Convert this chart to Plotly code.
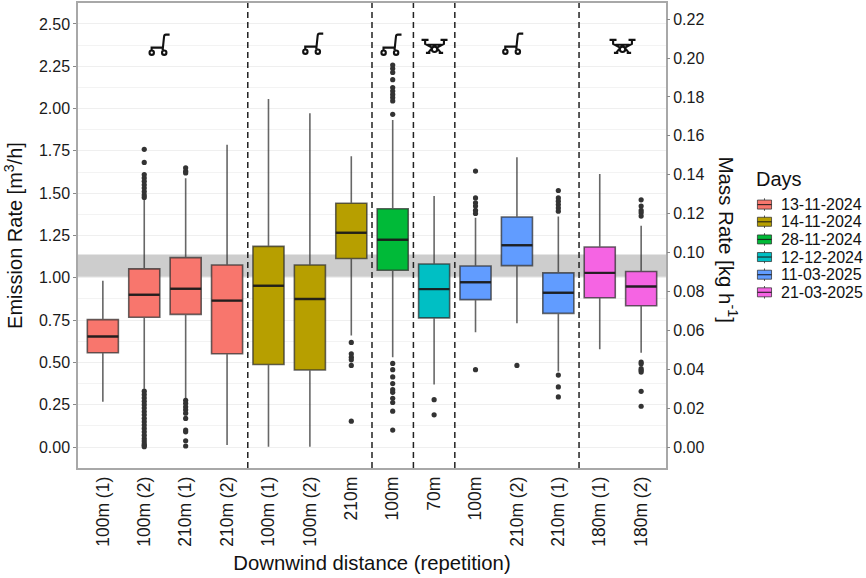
import plotly.graph_objects as go

# Survey days and their box colours
days = ["13-11-2024", "14-11-2024", "28-11-2024", "12-12-2024", "11-03-2025", "21-03-2025"]
colors = ["#F8766D", "#B79F00", "#00BA38", "#00BFC4", "#619CFF", "#F564E3"]

# Tick labels along the downwind axis
distance_labels = ["100m (1)", "100m (2)", "210m (1)", "210m (2)", "100m (1)", "100m (2)", "210m",
                   "100m", "70m", "100m", "210m (2)", "210m (1)", "180m (1)", "180m (2)"]

# Day index of every box
box_day = [0, 0, 0, 0, 1, 1, 1, 2, 3, 4, 4, 4, 5, 5]

# Box statistics, emission rate in m3/h
low_whisker = [0.267, 0.345, 0.286, 0.012, 0.002, 0.002, 0.659, 0.531, 0.369, 0.678, 0.731, 0.447, 0.578, 0.557]
q1_values = [0.557, 0.767, 0.784, 0.551, 0.488, 0.455, 1.114, 1.045, 0.763, 0.871, 1.072, 0.790, 0.882, 0.835]
medians = [0.653, 0.900, 0.935, 0.865, 0.953, 0.875, 1.266, 1.225, 0.933, 0.974, 1.192, 0.912, 1.029, 0.949]
q3_values = [0.753, 1.053, 1.119, 1.076, 1.186, 1.076, 1.441, 1.408, 1.082, 1.070, 1.359, 1.029, 1.182, 1.037]
high_whisker = [0.982, 1.472, 1.589, 1.786, 2.057, 1.972, 1.718, 1.933, 1.484, 1.355, 1.712, 1.363, 1.614, 1.308]

# Outliers per box
outliers = [
    [],
    [1.759, 1.682, 1.61, 1.59, 1.57, 1.55, 1.53, 1.51, 1.49, 1.475,
     0.33, 0.31, 0.29, 0.27, 0.25, 0.23, 0.21, 0.19, 0.17, 0.15, 0.13, 0.11, 0.09, 0.07, 0.05, 0.035, 0.02, 0.01, 0.002],
    [1.65, 1.63, 1.62, 0.276, 0.258, 0.238, 0.22, 0.2, 0.169, 0.1, 0.09, 0.037, 0.006],
    [],
    [],
    [],
    [0.618, 0.551, 0.531, 0.515, 0.482, 0.153],
    [2.257, 2.237, 2.214, 2.171, 2.124, 2.104, 2.084, 2.065, 2.045, 1.966,
     0.494, 0.457, 0.414, 0.375, 0.339, 0.323, 0.288, 0.263, 0.212, 0.1],
    [0.28, 0.19],
    [1.631, 1.472, 1.443, 1.424, 1.398, 1.38, 0.457],
    [0.482],
    [1.516, 1.472, 1.453, 1.433, 1.413, 1.394, 0.425, 0.355, 0.296],
    [],
    [1.461, 1.424, 1.398, 1.384, 1.365, 0.502, 0.492, 0.463, 0.453, 0.443, 0.329, 0.241],
]

# Vertical separators between survey days
separators = [3.5, 6.5, 7.5, 8.5, 11.5]

# Platform symbols: x and y anchors on the data axes
cart_positions = [(1.33, 2.376), (5.04, 2.382), (6.93, 2.376), (9.87, 2.382)]
drone_positions = [(8.01, 2.35), (12.55, 2.35)]

# Reference band for the released rate
band_low, band_high = 1.006, 1.138

# kg/h per m3/h
mass_factor = 0.087

x_range = [-0.6, 13.6]
y_range = [-0.124, 2.624]
font_family = "Liberation Sans, Arial, sans-serif"
box_line = "rgba(45,45,45,0.72)"


def ring(cx, cy, r):
    """Circle as four cubic segments, for pixel-sized shape paths."""
    k = 0.5523 * r
    return (f"M {cx + r} {cy} "
            f"C {cx + r} {cy + k} {cx + k} {cy + r} {cx} {cy + r} "
            f"C {cx - k} {cy + r} {cx - r} {cy + k} {cx - r} {cy} "
            f"C {cx - r} {cy - k} {cx - k} {cy - r} {cx} {cy - r} "
            f"C {cx + k} {cy - r} {cx + r} {cy - k} {cx + r} {cy} Z ")


CART_PATH = ("M 11.7 10.3 L 8 10.3 Q 6.3 10.3 6.1 8 L 4.7 -5.5 "
             "M 4.7 -2.7 L -6.3 -2.7 L -6.3 -5.4 "
             + ring(-6.2, -7.7, 2.2) + ring(6.3, -7.7, 2.2))
DRONE_PATH = ("M -13 9.5 L -6 9.5 M 13 9.5 L 6 9.5 "
              "M -9.4 9.5 L -9.4 5.5 L -2.5 1.8 M 9.4 9.5 L 9.4 5.5 L 2.5 1.8 "
              "M -7 4.6 L 7 4.6 "
              + ring(0, 0, 2.7) +
              "M -2.6 1.2 L -6.4 -3.5 M -8.6 -3.5 L -4.2 -3.5 "
              "M 2.6 1.2 L 6.4 -3.5 M 8.6 -3.5 L 4.2 -3.5")

fig = go.Figure()

# Band across the whole plot, kept underneath the boxes
fig.add_trace(go.Bar(
    x=[(x_range[0] + x_range[1]) / 2], y=[band_high - band_low], base=[band_low],
    width=[x_range[1] - x_range[0]], marker=dict(color="#CDCDCD", line_width=0),
    showlegend=False, hoverinfo="skip",
))

# One box trace per day
for day_index, day in enumerate(days):
    idx = [i for i, d in enumerate(box_day) if d == day_index]
    fig.add_trace(go.Box(
        x=idx,
        q1=[q1_values[i] for i in idx],
        median=[medians[i] for i in idx],
        q3=[q3_values[i] for i in idx],
        lowerfence=[low_whisker[i] for i in idx],
        upperfence=[high_whisker[i] for i in idx],
        width=0.75,
        name=day,
        fillcolor=colors[day_index],
        line=dict(color=box_line, width=1.6),
        whiskerwidth=0,
        boxpoints=False,
        showlegend=False,
    ))

# Heavier median strokes
fig.add_trace(go.Box(
    x=list(range(len(medians))),
    q1=medians, median=medians, q3=medians, lowerfence=medians, upperfence=medians,
    width=0.75,
    line=dict(color="rgba(25,25,25,0.85)", width=2.4),
    whiskerwidth=0,
    boxpoints=False,
    showlegend=False,
))

# Outlier points
outlier_x = [i for i, vals in enumerate(outliers) for _ in vals]
outlier_y = [v for vals in outliers for v in vals]
fig.add_trace(go.Scatter(
    x=outlier_x, y=outlier_y, mode="markers",
    marker=dict(color="#333333", size=5.2),
    showlegend=False,
))

# Mass-rate axis carrier
fig.add_trace(go.Scatter(
    x=list(range(len(medians))), y=[m * mass_factor for m in medians],
    yaxis="y2", mode="markers", marker=dict(opacity=0), showlegend=False, hoverinfo="skip",
))

shapes = []
for x in separators:
    shapes.append(dict(type="line", xref="x", yref="paper", x0=x, x1=x, y0=0, y1=1,
                       line=dict(color="#222222", width=1.5, dash="6px,4px"), layer="above"))
for x, y in cart_positions:
    shapes.append(dict(type="path", xsizemode="pixel", ysizemode="pixel", xanchor=x, yanchor=y,
                       xref="x", yref="y", path=CART_PATH, line=dict(color="#111111", width=2.1)))
for x, y in drone_positions:
    shapes.append(dict(type="path", xsizemode="pixel", ysizemode="pixel", xanchor=x, yanchor=y,
                       xref="x", yref="y", path=DRONE_PATH, line=dict(color="#111111", width=2.1)))

# Right-hand title reads downwards, so it is placed as a rotated annotation
annotations = [dict(text="Mass Rate [kg h<sup>-1</sup>]", xref="paper", yref="paper", x=1.105, y=0.49,
                    xanchor="center", yanchor="middle", textangle=90, showarrow=False,
                    font=dict(size=20.5, color="#111111"))]

# Day key drawn beside the plot
annotations.append(dict(text="Days", xref="paper", yref="paper", x=1.1505, y=0.622, xanchor="left",
                        yanchor="middle", showarrow=False, font=dict(size=20, color="#111111")))
key_rows = [0.5665, 0.5295, 0.4915, 0.4537, 0.4157, 0.3778]
for day, color, row in zip(days, colors, key_rows):
    annotations.append(dict(text=day, xref="paper", yref="paper", x=1.1915, y=row, xanchor="left",
                            yanchor="middle", showarrow=False, font=dict(size=16, color="#111111")))
    shapes.append(dict(type="line", xref="paper", yref="paper", x0=1.1675, x1=1.1675,
                       y0=row - 0.0135, y1=row + 0.0135, line=dict(color="#555555", width=1)))
    shapes.append(dict(type="rect", xref="paper", yref="paper", x0=1.1555, x1=1.1795,
                       y0=row - 0.0097, y1=row + 0.0097, fillcolor=color,
                       line=dict(color=box_line, width=1)))
    shapes.append(dict(type="line", xref="paper", yref="paper", x0=1.1555, x1=1.1795,
                       y0=row, y1=row, line=dict(color="rgba(25,25,25,0.85)", width=1.2)))

axis_font = dict(family=font_family, size=16, color="#1a1a1a")
fig.update_layout(
    width=866, height=578,
    margin=dict(l=78, r=200, t=1, b=110),
    paper_bgcolor="white", plot_bgcolor="white",
    boxmode="overlay",
    font=dict(family=font_family, color="#111111"),
    showlegend=False,
    shapes=shapes,
    annotations=annotations,
    xaxis=dict(
        range=x_range, tickmode="array", tickvals=list(range(len(distance_labels))),
        ticktext=distance_labels, tickangle=-90, ticks="", showgrid=False, zeroline=False,
        tickfont=dict(family=font_family, size=17.5, color="#1a1a1a"),
        title=dict(text="Downwind distance (repetition)", font=dict(size=20.3), standoff=10),
        showline=True, linecolor="#A8A8A8", linewidth=1.5, mirror=True,
    ),
    yaxis=dict(
        range=y_range, tick0=0, dtick=0.25, tickformat=".2f", ticks="outside", ticklen=3,
        tickcolor="#888888", tickfont=axis_font, showgrid=True, gridcolor="#EFEFEF", gridwidth=1,
        zeroline=False, minor=dict(dtick=0.125, showgrid=True, gridcolor="#F3F3F3", gridwidth=1, ticks=""),
        title=dict(text="Emission Rate [m<sup>3</sup>/h]", font=dict(size=20), standoff=11),
        showline=True, linecolor="#A8A8A8", linewidth=1.5, mirror=True,
    ),
    yaxis2=dict(
        overlaying="y", side="right", range=[v * mass_factor for v in y_range], tick0=0, dtick=0.02,
        tickformat=".2f", ticks="outside", ticklen=3, tickcolor="#888888", tickfont=axis_font,
        showgrid=False, zeroline=False,
    ),
)

fig.write_html("out.html", config=dict(displayModeBar=False))
